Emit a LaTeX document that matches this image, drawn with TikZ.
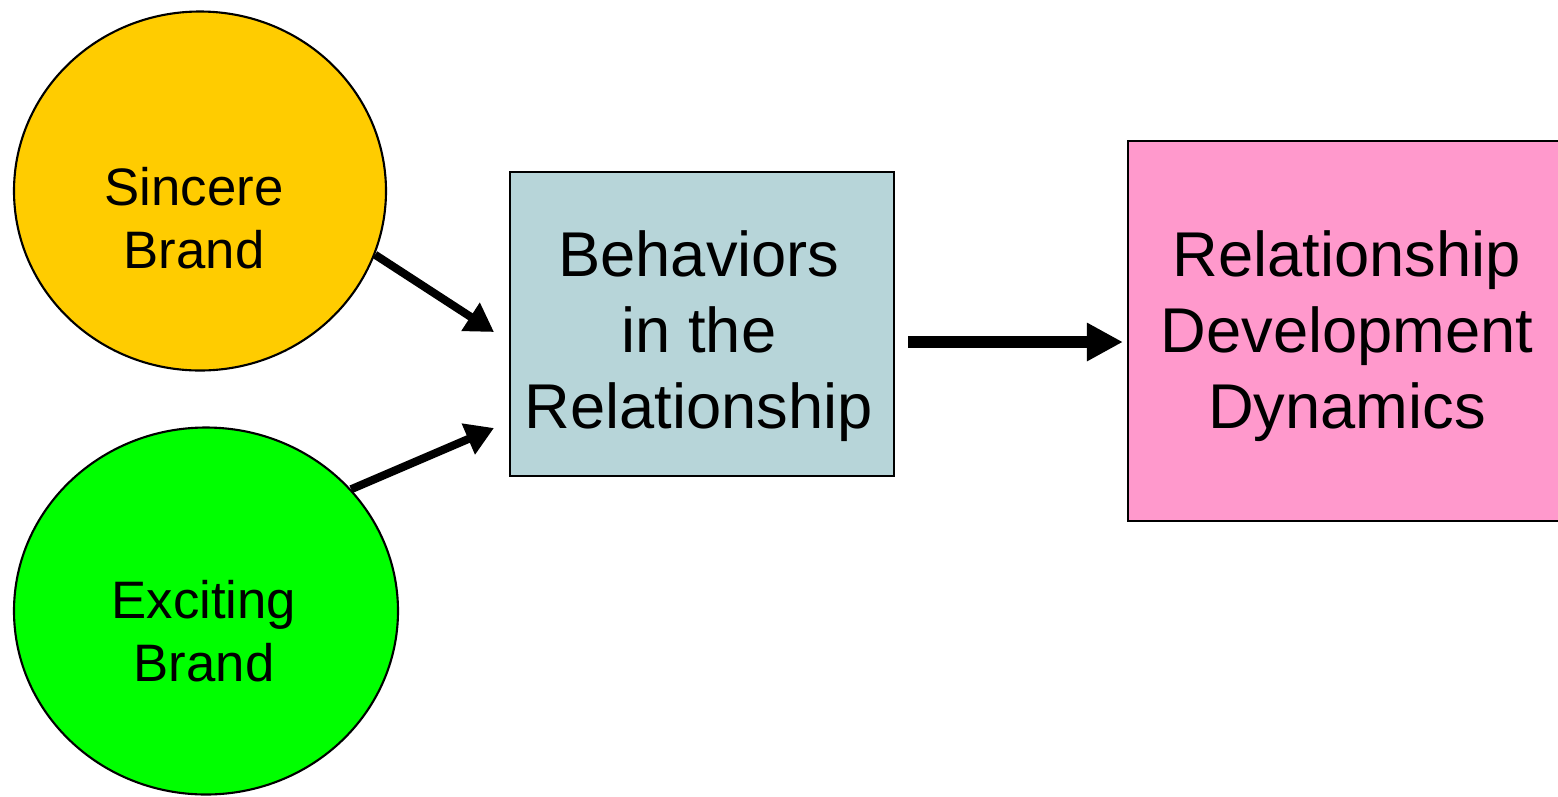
\documentclass[tikz,border=0pt]{standalone}
\usepackage{fontspec}
\setmainfont{Liberation Sans}
\usepackage{tikz}
\usetikzlibrary{shapes.geometric}
\usetikzlibrary{arrows.meta}

\definecolor{sincereyellow}{HTML}{FFCC00}
\definecolor{excitinggreen}{HTML}{00FF00}
\definecolor{behavblue}{HTML}{B7D5D9}
\definecolor{devpink}{HTML}{FF99CC}

\begin{document}
\begin{tikzpicture}[line width=0.6pt,
    brand/.style={ellipse, draw=black, inner sep=0pt},
    brandtext/.style={align=center, font=\fontsize{15pt}{17.9pt}\selectfont},
    bigbox/.style={rectangle, draw=black, inner sep=0pt},
    boxtext/.style={align=center, font=\fontsize{18pt}{21.6pt}\selectfont},
    thinarrow/.style={line width=2.3pt, -{Triangle[length=0.28cm, width=0.32cm]}},
    thickarrow/.style={line width=3.4pt, -{Triangle[length=0.36cm, width=0.36cm]}}]
    \useasboundingbox (0, 0) rectangle (15.58, -7.96);

    % draw brand circles
    \node[brand, fill=sincereyellow, minimum width=3.72cm, minimum height=3.59cm] (sincere) at (2.00, -1.91) {};
    \node[brandtext] (sinceretext) at (1.94, -2.18) {Sincere\\Brand};

    \node[brand, fill=excitinggreen, minimum width=3.84cm, minimum height=3.67cm] (exciting) at (2.06, -6.11) {};
    \node[brandtext] (excitingtext) at (2.04, -6.31) {Exciting\\Brand};

    % draw boxes
    \node[bigbox, fill=behavblue, minimum width=3.84cm, minimum height=3.04cm] (behav) at (7.02, -3.24) {};
    \node[boxtext] (behavtext) at (6.99, -3.36) {Behaviors\\in the\\Relationship};

    \node[bigbox, fill=devpink, minimum width=4.40cm, minimum height=3.80cm] (dev) at (13.48, -3.31) {};
    \node[boxtext] (devtext) at (13.47, -3.36) {Relationship\\Development\\Dynamics};

    % draw arrows
    \coordinate (sincerein) at (4.94, -3.32);
    \coordinate (excitingin) at (4.94, -4.28);
    \draw[thinarrow] (sincere.-20) -- (sincerein);
    \draw[thinarrow] (exciting.40) -- (excitingin);
    \draw[thickarrow] ([shift={(0.13, -0.18)}]behav.east) -- ([shift={(-0.04, -0.11)}]dev.west);

\end{tikzpicture}
\end{document}
